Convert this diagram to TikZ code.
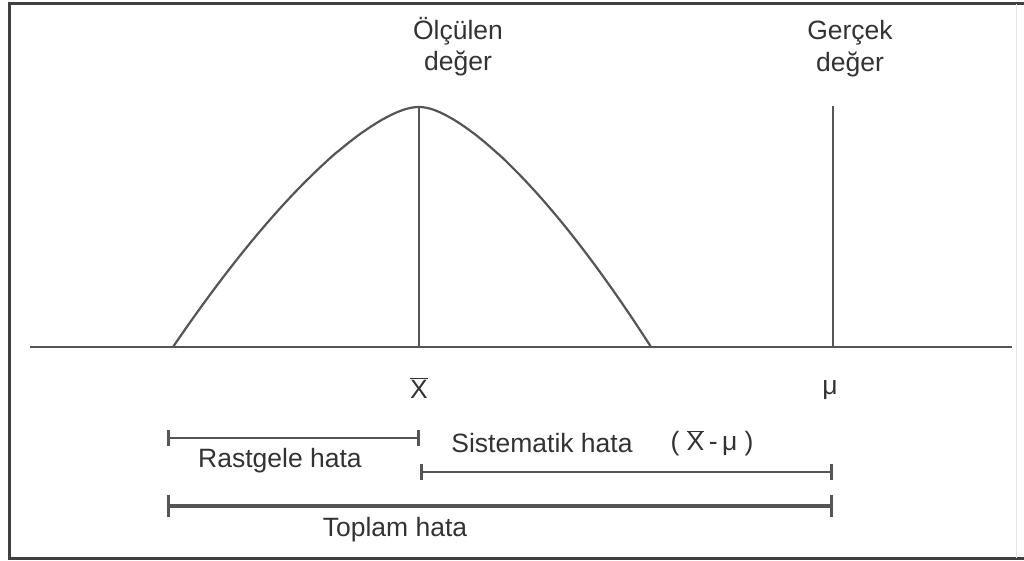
\documentclass[tikz,border=0pt]{standalone}
\usepackage{fontspec}
\setmainfont{Liberation Sans}
\usetikzlibrary{arrows.meta}
\definecolor{ink}{HTML}{555555}
\definecolor{txt}{HTML}{333333}
\definecolor{frm}{HTML}{404040}
\tikzset{
  lbl/.style={text=txt, font=\fontsize{26.5}{30}\selectfont, inner sep=0pt, anchor=center},
  thinline/.style={draw=ink, line width=2pt},
  bar/.style={draw=ink, line width=2.6pt, {Bar[width=16pt,line width=2.6pt]}-{Bar[width=16pt,line width=2.6pt]}},
  thickbar/.style={draw=ink, line width=4.5pt, {Bar[width=22pt,line width=3pt]}-{Bar[width=22pt,line width=3pt]}},
}
\newcommand{\xbar}{$\overline{\mbox{X}}$}
\begin{document}
\begin{tikzpicture}[x=1pt,y=-1pt]
\useasboundingbox (0,0) rectangle (1024,561);
% frame
\draw[frm, line width=3pt] (1024,4) -- (9,4) -- (9,558) -- (1024,558);
\draw[black!10, line width=1pt] (1016,4) -- (1016,558);
% axis
\coordinate (axL) at (30,347);
\coordinate (axR) at (1012,347);
\draw[thinline] (axL) -- (axR);
% curve
\coordinate (peak) at (419,107);
\coordinate (xfoot) at (419,347);
\draw[thinline, line width=2.2pt]
  plot[domain=1:0, samples=60] ({419-246*\x}, {347-240*(1-1.0025*\x*\x/pow(\x*\x+0.01,0.25))})
  -- plot[domain=0:1, samples=60] ({419+232*\x}, {347-240*(1-1.0025*\x*\x/pow(\x*\x+0.01,0.25))});
\draw[ink, line width=2.6pt] (peak) -- (xfoot);
\coordinate (mutop) at (833,106);
\coordinate (mufoot) at (833,347);
\draw[ink, line width=2.6pt] (mutop) -- (mufoot);
% top labels
\node[lbl] (olc) at (458,31) {Ölçülen};
\node[lbl] (deg1) at (458,63) {değer};
\node[lbl] (ger) at (850,33) {Gerçek};
\node[lbl] (deg2) at (850,64) {değer};
% axis labels
\node[lbl] (xb) at (419,388) {\xbar};
\node[lbl] (mu) at (830,390) {μ};
% bars
\coordinate (rL) at (167,438);
\coordinate (rR) at (420,438);
\draw[bar] (rL) -- (rR);
\coordinate (sL) at (420,472);
\coordinate (sR) at (833,472);
\draw[bar] (sL) -- (sR);
\coordinate (tL) at (167,506);
\coordinate (tR) at (833,506);
\draw[thickbar] (tL) -- (tR);
\node[lbl] (rast) at (280,461) {Rastgele hata};
\node[lbl] (sist) at (542,443) {Sistematik hata};
\node[lbl] (diff) at (712,443) {( \xbar\,-\,μ )};
\node[lbl] (top) at (395,530) {Toplam hata};
\end{tikzpicture}
\end{document}
